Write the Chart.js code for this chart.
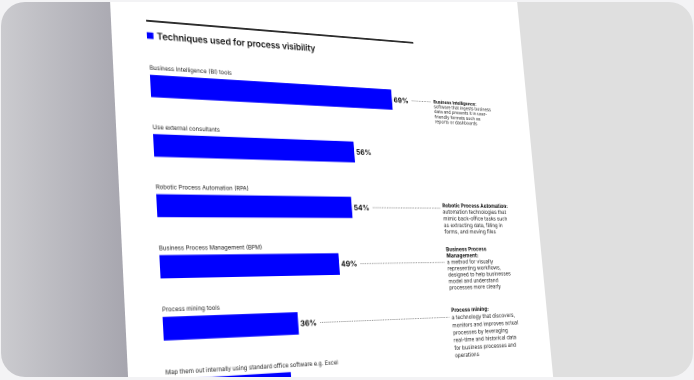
<!DOCTYPE html>
<html><head><meta charset="utf-8">
<script src="https://cdn.jsdelivr.net/npm/chart.js@4.4.1/dist/chart.umd.min.js"></script>
<style>
html,body{margin:0;padding:0;background:#f3f3f5;width:694px;height:380px;overflow:hidden}
#card{position:absolute;left:1px;top:2px;width:692px;height:375px;border-radius:24px;overflow:hidden;
 background:linear-gradient(90deg,#cbcbcf 0px,#a6a5ae 128px,#dfdfdf 128px,#dfdfdf 100%);}
#plane{position:absolute;left:-1px;top:-2px;width:480px;height:370px;transform-origin:0 0;}
#paper{position:absolute;left:0;top:-150px;width:480px;height:700px;background:#fff;}
#c{position:absolute;left:0;top:0;}
</style></head>
<body><div id="card"><div id="plane"><div id="paper"></div><canvas id="c" width="480" height="420"></canvas></div></div>
<script>
// ---- data ----
const chartTitle = "Techniques used for process visibility";
const categories = [
  "Business Intelligence (BI) tools",
  "Use external consultants",
  "Robotic Process Automation (RPA)",
  "Business Process Management (BPM)",
  "Process mining tools",
  "Map them out internally using standard office software e.g. Excel"
];
const values = [69, 56, 54, 49, 36, 33];
const noteBars = [0, 2, 3, 4];
const noteHeads = [
  ["Business Intelligence:"],
  ["Robotic Process Automation:"],
  ["Business Process", "Management:"],
  ["Process mining:"]
];
const noteBodies = [
  ["software that ingests business", "data and presents it in user-", "friendly formats such as", "reports or dashboards"],
  ["automation technologies that", "mimic back-office tasks such", "as extracting data, filling in", "forms, and moving files"],
  ["a method for visually", "representing workflows,", "designed to help businesses", "model and understand", "processes more clearly"],
  ["a technology that discovers,", "monitors and improves actual", "processes by leveraging", "real-time and historical data", "for business processes and", "operations"]
];
// style of the note blocks (anchor line, font size, line height)
const noteAnchor = [0, 0.4, 2, 0.9];
const noteFont = [5.2, 6.0, 6.0, 6.1];
const noteLine = [5.6, 7.3, 7.0, 8.2];

// ---- page perspective (page edges in the photo) ----
const W = 480, H = 370;
const Q = [[110,0],[520.5,36.9],[551,354.5],[128.2,380]];
function homog(q){
  const [x0,y0]=q[0],[x1,y1]=q[1],[x2,y2]=q[2],[x3,y3]=q[3];
  const dx1=x1-x2,dx2=x3-x2,dx3=x0-x1+x2-x3,dy1=y1-y2,dy2=y3-y2,dy3=y0-y1+y2-y3;
  const det=dx1*dy2-dx2*dy1;
  const g=(dx3*dy2-dx2*dy3)/det,h=(dx1*dy3-dx3*dy1)/det;
  return {a:x1-x0+g*x1,b:x3-x0+h*x3,c:x0,d:y1-y0+g*y1,e:y3-y0+h*y3,f:y0,g,h};
}
const m = homog(Q);
document.getElementById('plane').style.transform =
  `matrix3d(${m.a/W},${m.d/W},0,${m.g/W},${m.b/H},${m.e/H},0,${m.h/H},0,0,1,0,${m.c},${m.f},0,1)`;

const FONT = 'Inter, "Noto Sans", sans-serif';
const deco = {
  id: 'deco',
  afterDatasetsDraw(chart){
    const ctx = chart.ctx, area = chart.chartArea, meta = chart.getDatasetMeta(0), xs = chart.scales.x;
    ctx.save();
    // rule line
    ctx.strokeStyle = '#111'; ctx.lineWidth = 1.8;
    ctx.beginPath(); ctx.moveTo(area.left-1, 18); ctx.lineTo(area.left+300, 18); ctx.stroke();
    // title with blue square
    ctx.fillStyle = '#0000ff'; ctx.fillRect(area.left-1, 29.8, 6.6, 6.6);
    ctx.fillStyle = '#111'; ctx.textBaseline = 'middle'; ctx.textAlign = 'left';
    ctx.font = '600 9.4px ' + FONT;
    ctx.fillText(chartTitle, area.left+9, 33.5);
    // bar labels & values
    const valueEnds = [];
    meta.data.forEach((bar, i) => {
      ctx.fillStyle = '#1c1c1c'; ctx.font = '5.9px ' + FONT;
      ctx.fillText(categories[i], bar.base, bar.y - 18);
      ctx.fillStyle = '#111'; ctx.font = 'bold 7.9px ' + FONT;
      const t = values[i] + '%';
      ctx.fillText(t, bar.x + 2.5, bar.y + 0.5);
      valueEnds[i] = bar.x + 2.5 + ctx.measureText(t).width;
    });
    // notes with dotted leaders
    const annX = xs.getPixelForValue(82.5);
    noteBars.forEach((bi, n) => {
      const bar = meta.data[bi], lh = noteLine[n];
      ctx.strokeStyle = '#444'; ctx.lineWidth = 0.7; ctx.setLineDash([0.8, 1.1]);
      ctx.beginPath(); ctx.moveTo(valueEnds[bi] + 4, bar.y); ctx.lineTo(annX - 3, bar.y); ctx.stroke();
      ctx.setLineDash([]);
      let k = 0;
      const y0 = bar.y - noteAnchor[n]*lh;
      ctx.fillStyle = '#111'; ctx.font = 'bold ' + noteFont[n] + 'px ' + FONT;
      noteHeads[n].forEach(s => { ctx.fillText(s, annX, y0 + k*lh); k++; });
      ctx.fillStyle = '#222'; ctx.font = noteFont[n] + 'px ' + FONT;
      noteBodies[n].forEach(s => { ctx.fillText(s, annX, y0 + k*lh); k++; });
    });
    ctx.restore();
  }
};

new Chart(document.getElementById('c'), {
  type: 'bar',
  data: { labels: categories, datasets: [{ data: values, backgroundColor: '#0000ff', borderWidth: 0, barThickness: 22 }] },
  options: {
    indexAxis: 'y', responsive: false, animation: false, devicePixelRatio: 2,
    layout: { padding: { left: 36, right: 57, top: 54.6, bottom: 6.9 } },
    scales: { x: { display: false, min: 0, max: 100 }, y: { display: false } },
    plugins: { legend: { display: false }, tooltip: { enabled: false }, title: { display: false } }
  },
  plugins: [deco]
});
</script></body></html>
